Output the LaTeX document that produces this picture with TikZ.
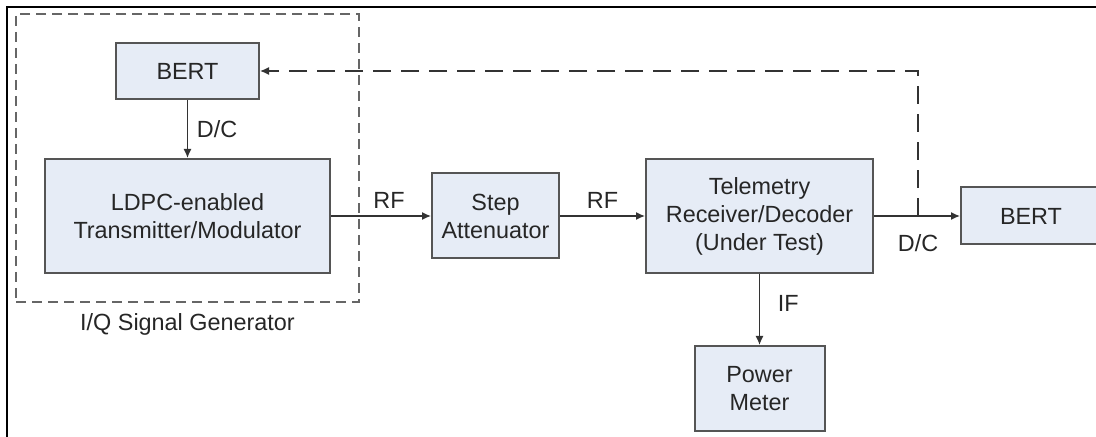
\documentclass[tikz,border=0pt]{standalone}
\usepackage{fontspec}
\setmainfont{Liberation Sans}
\usetikzlibrary{positioning, arrows.meta, fit}
\definecolor{boxfill}{RGB}{230,236,246}
\definecolor{boxline}{RGB}{85,85,85}

\begin{document}
\begin{tikzpicture}[
  x=0.5pt, y=-0.5pt,
  every node/.style={font=\fontsize{11.7}{14}\selectfont, text=black!85},
  blk/.style={draw=boxline, line width=1pt, fill=boxfill, align=center, inner sep=0pt},
  arr/.style={-{Latex[length=4.5pt, width=4pt]}, line width=0.7pt, draw=black!80},
  fb/.style={arr, dash pattern=on 9pt off 5pt},
  grp/.style={draw=black!60, line width=0.9pt, dash pattern=on 5pt off 3pt, inner sep=14pt}
]
  \useasboundingbox (0,0) rectangle (1096,437);
  \draw[line width=0.8pt] (7,437) -- (7,7) -- (1096,7);

  \node[blk, minimum width=142.5pt, minimum height=57pt] (ldpc) at (187.5,216) {LDPC-enabled\\Transmitter/Modulator};
  \node[blk, minimum width=71.5pt, minimum height=28pt, above=29pt of ldpc] (bert1) {BERT};
  \node[blk, minimum width=63.5pt, minimum height=42.5pt, right=50pt of ldpc] (step) {Step\\Attenuator};
  \node[blk, minimum width=113.5pt, minimum height=57pt, right=42.5pt of step] (rx) {Telemetry\\Receiver/Decoder\\(Under Test)};
  \node[blk, minimum width=70pt, minimum height=28.5pt, right=43pt of rx] (bert2) {BERT};
  \node[blk, minimum width=65pt, minimum height=42.5pt, below=35.5pt of rx] (pm) {Power\\Meter};
  \node[grp, fit=(bert1)(ldpc)] (gen) {};
  \node[below=2pt of gen] (genlbl) {I/Q Signal Generator};
  \coordinate[right=22pt of rx.east] (tap);

  \draw[arr] (bert1) -- node[right=1pt] (dc1) {D/C} (ldpc);
  \draw[arr] (ldpc) -- node[above, pos=0.58] (rf1) {RF} (step);
  \draw[arr] (step) -- node[above] (rf2) {RF} (rx);
  \draw[arr] (rx) -- (bert2);
  \node[below=5.5pt of tap] (dc2) {D/C};
  \draw[arr] (rx) -- node[right=5.5pt, pos=0.42] (if) {IF} (pm);
  \draw[fb] (tap) |- (bert1);
\end{tikzpicture}
\end{document}
